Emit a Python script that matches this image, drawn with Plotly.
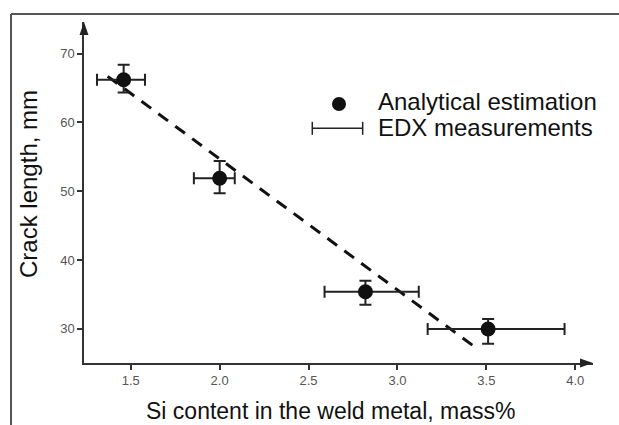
import plotly.graph_objects as go

# ---- data ----
si_content = [1.46, 2.00, 2.82, 3.51]
crack_length = [66.2, 51.9, 35.4, 30.0]
si_err_plus = [0.12, 0.085, 0.30, 0.43]
si_err_minus = [0.15, 0.145, 0.23, 0.34]
crack_err_plus = [2.2, 2.5, 1.6, 1.45]
crack_err_minus = [1.85, 2.2, 1.9, 2.15]

trend_x = [1.37, 3.45]
trend_y = [66.7, 27.1]

x_tickvals = [1.5, 2.0, 2.5, 3.0, 3.5, 4.0]
x_ticktext = ["1.5", "2.0", "2.5", "3.0", "3.5", "4.0"]
y_tickvals = [30, 40, 50, 60, 70]
y_ticktext = ["30", "40", "50", "60", "70"]

x_title = "Si content in the weld metal, mass%"
y_title = "Crack length, mm"
legend_labels = ["Analytical estimation", "EDX measurements"]

FONT = "Liberation Sans, Arial, Helvetica, sans-serif"
INK = "#111111"

fig = go.Figure()

fig.add_trace(go.Scatter(
    x=trend_x, y=trend_y, mode="lines",
    line=dict(color=INK, width=3, dash="12px,9px"),
    showlegend=False, hoverinfo="skip",
))

fig.add_trace(go.Scatter(
    x=si_content, y=crack_length, mode="markers",
    marker=dict(color=INK, size=15),
    error_x=dict(type="data", symmetric=False, array=si_err_plus,
                 arrayminus=si_err_minus, color="#222222", thickness=2, width=6),
    error_y=dict(type="data", symmetric=False, array=crack_err_plus,
                 arrayminus=crack_err_minus, color="#222222", thickness=2, width=6),
    showlegend=False,
))

# plot area: x 84..593 px, y 22..363 px
shapes = [
    # axis arrowheads
    dict(type="path", xref="paper", yref="paper",
         path="M 0 1 L -0.0088 0.9619 L 0.0088 0.9619 Z",
         fillcolor="#222222", line=dict(width=0)),
    dict(type="path", xref="paper", yref="paper",
         path="M 1 0 L 0.9745 0.0132 L 0.9745 -0.0132 Z",
         fillcolor="#222222", line=dict(width=0)),
    # outer frame (top and left edges)
    dict(type="line", xref="paper", yref="paper",
         x0=-0.1434, y0=1.0235, x1=1.2, y1=1.0235,
         line=dict(color="#555555", width=2)),
    dict(type="line", xref="paper", yref="paper",
         x0=-0.1434, y0=1.0235, x1=-0.1434, y1=-0.3,
         line=dict(color="#555555", width=2)),
    # legend: marker
    dict(type="circle", xref="paper", yref="paper",
         xsizemode="pixel", ysizemode="pixel", xanchor=0.501, yanchor=0.7595,
         x0=-7, x1=7, y0=-7, y1=7, fillcolor=INK, line=dict(width=0)),
    # legend: error bar
    dict(type="line", xref="paper", yref="paper",
         x0=0.4485, y0=0.6882, x1=0.5475, y1=0.6882,
         line=dict(color="#222222", width=1.5)),
    dict(type="line", xref="paper", yref="paper",
         x0=0.4485, y0=0.6692, x1=0.4485, y1=0.7072,
         line=dict(color="#222222", width=1.5)),
    dict(type="line", xref="paper", yref="paper",
         x0=0.5475, y0=0.6692, x1=0.5475, y1=0.7072,
         line=dict(color="#222222", width=1.5)),
]

annotations = [
    dict(text=legend_labels[0], xref="paper", yref="paper", x=0.5736, y=0.7680,
         xanchor="left", yanchor="middle", showarrow=False,
         font=dict(family=FONT, size=24, color=INK)),
    dict(text=legend_labels[1], xref="paper", yref="paper", x=0.5736, y=0.6920,
         xanchor="left", yanchor="middle", showarrow=False,
         font=dict(family=FONT, size=24, color=INK)),
    dict(text=x_title, xref="paper", yref="paper", x=0.484, y=-0.142,
         xanchor="center", yanchor="middle", showarrow=False,
         font=dict(family=FONT, size=23, color=INK)),
    dict(text=y_title, xref="paper", yref="paper", x=-0.108, y=0.525,
         xanchor="center", yanchor="middle", showarrow=False, textangle=-90,
         font=dict(family=FONT, size=24, color=INK)),
]

fig.update_layout(
    width=619, height=425,
    margin=dict(l=84, r=26, t=22, b=62),
    paper_bgcolor="white", plot_bgcolor="white",
    showlegend=False,
    shapes=shapes, annotations=annotations,
    xaxis=dict(range=[1.237, 4.10], showgrid=False, zeroline=False,
               showline=True, linecolor="#333333", linewidth=1.5,
               ticks="outside", ticklen=5, tickwidth=1.5, tickcolor="#333333",
               tickvals=x_tickvals, ticktext=x_ticktext,
               tickfont=dict(family=FONT, size=13, color="#555555")),
    yaxis=dict(range=[25.05, 74.6], showgrid=False, zeroline=False,
               showline=True, linecolor="#333333", linewidth=1.5,
               ticks="outside", ticklen=5, tickwidth=1.5, tickcolor="#333333",
               tickvals=y_tickvals, ticktext=y_ticktext,
               tickfont=dict(family=FONT, size=13, color="#555555")),
)

fig.write_html(
    "out.html",
    config={"displayModeBar": False},
    post_script="document.body.style.margin='0';document.body.style.overflow='hidden';",
)
